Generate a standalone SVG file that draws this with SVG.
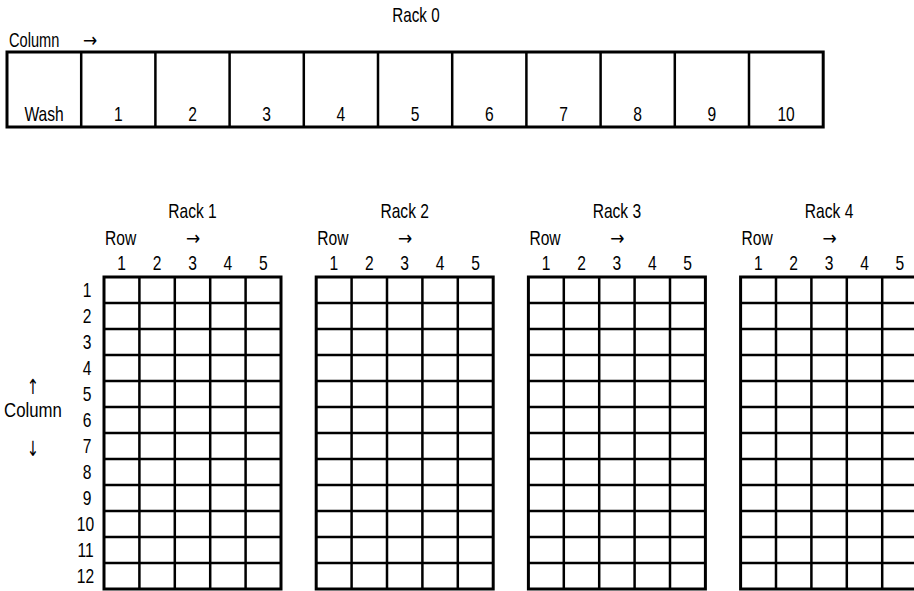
<svg xmlns="http://www.w3.org/2000/svg" xmlns:xlink="http://www.w3.org/1999/xlink" width="914" height="591" viewBox="0 0 914 591">
<style>
text{font-family:"Liberation Sans",Arial,sans-serif;font-size:20px;fill:#000;text-anchor:middle}
.st{text-anchor:start}
.ar{font-family:"DejaVu Sans",sans-serif;font-size:20px}
.av{font-family:"DejaVu Sans",sans-serif;font-size:21px}
.ln{fill:none;stroke:#000;stroke-width:2.5}
.bd{fill:none;stroke:#000;stroke-width:3}
</style>
<defs>
<g id="grid">
<path class="ln" d="M35.4 0V312M70.8 0V312M106.2 0V312M141.6 0V312M0 26H177M0 52H177M0 78H177M0 104H177M0 130H177M0 156H177M0 182H177M0 208H177M0 234H177M0 260H177M0 286H177"/>
<rect class="bd" x="0" y="0" width="177" height="312"/>
<text transform="translate(17.7 -7) scale(0.78 1)">1</text>
<text transform="translate(53.1 -7) scale(0.78 1)">2</text>
<text transform="translate(88.5 -7) scale(0.78 1)">3</text>
<text transform="translate(123.9 -7) scale(0.78 1)">4</text>
<text transform="translate(159.3 -7) scale(0.78 1)">5</text>
<text class="st" transform="translate(1 -32) scale(0.78 1)">Row</text>
<text class="ar" transform="translate(89 -32) scale(0.85 1)">→</text>
</g>
</defs>

<g id="rack0">
<text transform="translate(416 22) scale(0.76 1)">Rack 0</text>
<text class="st" transform="translate(9 47) scale(0.73 1)">Column</text>
<text class="ar" transform="translate(90 47) scale(0.85 1)">→</text>
<path class="ln" d="M81.2 52V127M155.4 52V127M229.6 52V127M303.8 52V127M378 52V127M452.2 52V127M526.4 52V127M600.6 52V127M674.8 52V127M749 52V127"/>
<rect class="bd" x="7" y="52" width="816.2" height="75"/>
<text transform="translate(44.1 121) scale(0.78 1)">Wash</text>
<text transform="translate(118.3 121) scale(0.78 1)">1</text>
<text transform="translate(192.5 121) scale(0.78 1)">2</text>
<text transform="translate(266.7 121) scale(0.78 1)">3</text>
<text transform="translate(340.9 121) scale(0.78 1)">4</text>
<text transform="translate(415.1 121) scale(0.78 1)">5</text>
<text transform="translate(489.3 121) scale(0.78 1)">6</text>
<text transform="translate(563.5 121) scale(0.78 1)">7</text>
<text transform="translate(637.7 121) scale(0.78 1)">8</text>
<text transform="translate(711.9 121) scale(0.78 1)">9</text>
<text transform="translate(786.1 121) scale(0.78 1)">10</text>
</g>

<g id="column-axis">
<text class="av" transform="translate(33 394) scale(0.7 1)">↑</text>
<text transform="translate(33 417) scale(0.84 1)">Column</text>
<text class="av" transform="translate(33 456) scale(0.7 1)">↓</text>
<text transform="translate(87 297) scale(0.78 1)">1</text>
<text transform="translate(87 323) scale(0.78 1)">2</text>
<text transform="translate(87 349) scale(0.78 1)">3</text>
<text transform="translate(87 375) scale(0.78 1)">4</text>
<text transform="translate(87 401) scale(0.78 1)">5</text>
<text transform="translate(87 427) scale(0.78 1)">6</text>
<text transform="translate(87 453) scale(0.78 1)">7</text>
<text transform="translate(87 479) scale(0.78 1)">8</text>
<text transform="translate(87 505) scale(0.78 1)">9</text>
<text transform="translate(85.5 531) scale(0.78 1)">10</text>
<text transform="translate(85.5 557) scale(0.78 1)">11</text>
<text transform="translate(85.5 583) scale(0.78 1)">12</text>
</g>

<g id="rack1">
<text transform="translate(192.5 218) scale(0.78 1)">Rack 1</text>
<use xlink:href="#grid" x="104" y="277"/>
</g>
<g id="rack2">
<text transform="translate(404.7 218) scale(0.78 1)">Rack 2</text>
<use xlink:href="#grid" x="316.2" y="277"/>
</g>
<g id="rack3">
<text transform="translate(616.9 218) scale(0.78 1)">Rack 3</text>
<use xlink:href="#grid" x="528.4" y="277"/>
</g>
<g id="rack4">
<text transform="translate(829.1 218) scale(0.78 1)">Rack 4</text>
<use xlink:href="#grid" x="740.6" y="277"/>
</g>
</svg>
